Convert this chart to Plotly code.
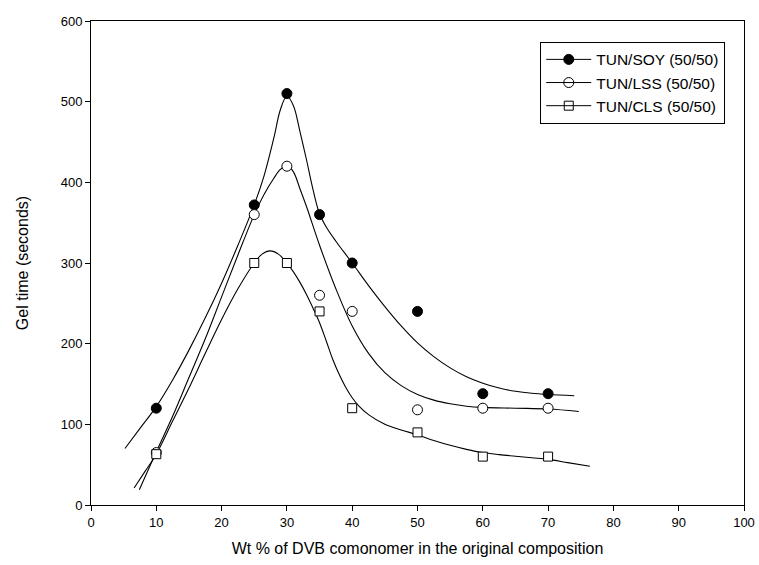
import plotly.graph_objects as go

# Measured gel times (seconds) versus DVB content (wt %)
dvb_wt = [10, 25, 30, 35, 40, 50, 60, 70]
soy_gel = [120, 372, 510, 360, 300, 240, 138, 138]
lss_gel = [65, 360, 420, 260, 240, 118, 120, 120]
cls_gel = [63, 300, 300, 240, 120, 90, 60, 60]

series_names = ["TUN/SOY (50/50)", "TUN/LSS (50/50)", "TUN/CLS (50/50)"]

# Smoothed fit curves through each data set
soy_fit_x = [5.2, 7.5, 10, 12.5, 15, 17.5, 20, 22.5, 25, 26.5, 28, 29, 30, 31, 32, 33, 34, 35, 36,
             37.5, 40, 42.5, 45, 47.5, 50, 52.5, 55, 57.5, 60, 62.5, 65, 67.5, 70, 74]
soy_fit_y = [70, 95, 122, 155, 192, 232, 275, 322, 372, 408, 455, 490, 507, 495, 463, 428, 391, 361, 345,
             327, 300, 272, 246, 222, 201, 184, 170, 159, 151, 145, 141, 138.5, 137, 135.5]

lss_fit_x = [7.4, 10, 12.5, 15, 17.5, 20, 22.5, 25, 26.5, 28, 29, 30, 31, 32, 33, 35, 37.5, 40,
             42.5, 45, 47.5, 50, 52.5, 55, 57.5, 60, 65, 70, 74.7]
lss_fit_y = [19, 66, 110, 158, 206, 258, 310, 360, 385, 405, 416, 421, 413, 392, 370, 322, 268, 222,
             188, 164, 148, 137, 130, 125.5, 122.5, 121, 120, 119, 116]

cls_fit_x = [6.6, 8.3, 10, 12.5, 15, 17.5, 20, 22.5, 25, 26.2, 27.4, 28.7, 30, 31, 32, 33, 34, 35, 36,
             37, 38, 39, 40, 41, 42.5, 45, 47.5, 50, 52.5, 55, 57.5, 60, 62.5, 65, 67.5, 70, 73, 76.4]
cls_fit_y = [21, 42, 63, 104, 145, 188, 230, 268, 300, 311, 315, 311, 300, 289, 276, 261, 244, 226, 204,
             181, 162, 146, 133, 123, 112, 100, 93, 87, 80, 74, 69, 65, 62.5, 60.5, 58.5, 56.5, 52.5, 48]

FONT = "Arial, 'Liberation Sans', sans-serif"

fig = go.Figure()

fits = [(soy_fit_x, soy_fit_y), (lss_fit_x, lss_fit_y), (cls_fit_x, cls_fit_y)]
for fx, fy in fits:
    fig.add_trace(go.Scatter(
        x=fx, y=fy, mode="lines",
        line=dict(color="black", width=1.1, shape="spline", smoothing=1.0),
        showlegend=False, hoverinfo="skip",
    ))

markers = [
    dict(symbol="circle", size=10, color="black", line=dict(color="black", width=1)),
    dict(symbol="circle-open", size=10, color="black", line=dict(color="black", width=1)),
    dict(symbol="square-open", size=9, color="black", line=dict(color="black", width=1)),
]
values = [soy_gel, lss_gel, cls_gel]

for name, vals, mk in zip(series_names, values, markers):
    # white backing so open symbols hide the curve behind them
    if "open" in mk["symbol"]:
        fig.add_trace(go.Scatter(
            x=dvb_wt, y=vals, mode="markers",
            marker=dict(symbol=mk["symbol"].replace("-open", ""), size=mk["size"], color="white",
                        line=dict(width=0)),
            showlegend=False, hoverinfo="skip",
        ))
    fig.add_trace(go.Scatter(
        x=dvb_wt, y=vals, mode="markers", name=name,
        marker=mk, showlegend=False,
    ))

# Legend entries: line with marker in the middle
for name, mk in zip(series_names, markers):
    fig.add_trace(go.Scatter(
        x=[None], y=[None], mode="lines+markers", name=name,
        marker=mk, line=dict(color="black", width=1),
    ))

axis_common = dict(
    showline=True, linecolor="black", linewidth=1, mirror=True,
    ticks="outside", ticklen=5, tickcolor="black", tickwidth=1,
    showgrid=False, zeroline=False, automargin=False,
    tickfont=dict(family=FONT, size=13, color="black"),
)

fig.update_layout(
    width=759, height=565,
    margin=dict(l=91, r=15, t=21, b=60),
    paper_bgcolor="white", plot_bgcolor="white",
    xaxis=dict(range=[0, 100], dtick=10, tick0=0,
               title=dict(text="Wt % of DVB comonomer in the original composition",
                          font=dict(family=FONT, size=16, color="black"), standoff=14),
               **axis_common),
    yaxis=dict(range=[0, 600], dtick=100, tick0=0,
               title=dict(text="Gel time (seconds)",
                          font=dict(family=FONT, size=16, color="black"), standoff=28),
               **axis_common),
    legend=dict(x=0.688, y=0.957, xanchor="left", yanchor="top",
                bgcolor="white", bordercolor="black", borderwidth=1,
                font=dict(family=FONT, size=15.5, color="black"),
                itemwidth=45, tracegroupgap=0),
    showlegend=True,
)

fig.write_html("out.html")
